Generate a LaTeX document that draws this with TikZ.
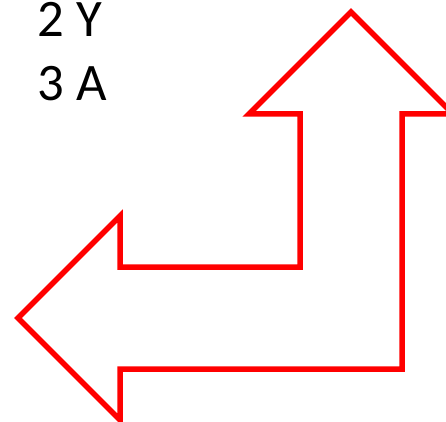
\documentclass[tikz,border=0pt]{standalone}
\usepackage{fontspec}
\setmainfont{Carlito}
\begin{document}
\begin{tikzpicture}[x=0.02cm, y=-0.02cm, line width=0.11cm]
  \tikzset{rowlabel/.style={font=\fontsize{30}{36}\selectfont, anchor=base west, inner sep=0pt}}
  \useasboundingbox (0,0) rectangle (446,422);
  % bent double arrow
  \draw[red] (351,12) -- (453,114) -- (402,114) -- (402,369) -- (120,369) -- (120,420)
    -- (18,318) -- (120,216) -- (120,267) -- (300,267) -- (300,114) -- (249,114) -- cycle;
  \node[rowlabel] (rowtwo) at (35,37) {2 Y};
  \node[rowlabel] (rowthree) at (35,101) {3 A};
\end{tikzpicture}
\end{document}
